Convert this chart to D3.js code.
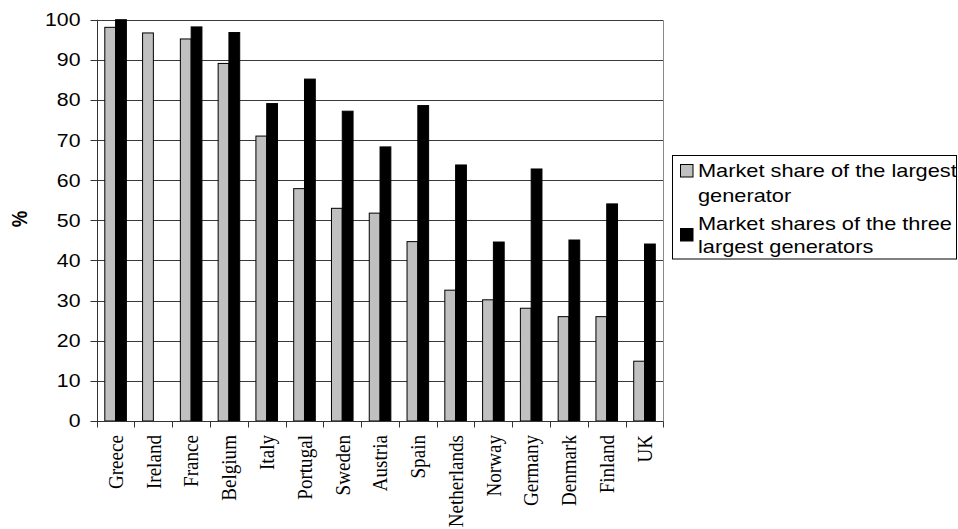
<!DOCTYPE html>
<html>
<head>
<meta charset="utf-8">
<script src="https://cdn.jsdelivr.net/npm/d3@7"></script>
<style>
  html, body { margin: 0; padding: 0; background: #fff; }
  svg { display: block; }
</style>
</head>
<body>
<svg id="chart" width="958" height="529"></svg>
<script>
const categories = ["Greece","Ireland","France","Belgium","Italy","Portugal","Sweden","Austria","Spain","Netherlands","Norway","Germany","Denmark","Finland","UK"];
const largest = [98.1, 96.7, 95.2, 89.1, 71.0, 57.9, 53.0, 51.8, 44.7, 32.6, 30.2, 28.1, 26.0, 26.0, 14.9];
const threeLargest = [100, null, 98.2, 96.8, 79.1, 85.2, 77.2, 68.3, 78.6, 63.8, 44.6, 62.8, 45.1, 54.1, 44.1];
const seriesNames = ["Market share of the largest|generator", "Market shares of the three|largest generators"];
const seriesColors = ["#c0c0c0", "#000000"];
const yTicks = [0,10,20,30,40,50,60,70,80,90,100];
const yLabel = "%";

const svg = d3.select("#chart");
const plot = { left: 96.7, right: 663.4, top: 19.7, bottom: 421 };
const SX = 1.15;

const x = d3.scaleBand().domain(categories).range([plot.left, plot.right]).paddingInner(0).paddingOuter(0);
const bw = x.bandwidth();
const x1 = d3.scaleBand().domain([0,1]).range([bw*0.2143, bw*0.7857]).padding(0);
const y = d3.scaleLinear().domain([0,100]).range([plot.bottom, plot.top]);

// gridlines
svg.append("g").selectAll("line").data(yTicks.filter(d => d > 0)).join("line")
  .attr("x1", plot.left).attr("x2", plot.right)
  .attr("y1", d => Math.round(y(d)) + 0.5).attr("y2", d => Math.round(y(d)) + 0.5)
  .attr("stroke", "#3a3a3a").attr("stroke-width", 1);

// right border
svg.append("line").attr("x1", Math.round(plot.right)+0.5).attr("x2", Math.round(plot.right)+0.5)
  .attr("y1", Math.round(y(100))+0.5).attr("y2", Math.round(y(0))+0.5)
  .attr("stroke", "#8a8a8a");

// bars
const rows = categories.map((c, i) => ({ c, vals: [largest[i], threeLargest[i]] }));
const groups = svg.append("g").selectAll("g").data(rows).join("g")
  .attr("transform", d => `translate(${x(d.c)},0)`);
groups.selectAll("rect").data(d => d.vals.map((v, k) => ({ v, k })).filter(e => e.v != null)).join("rect")
  .attr("x", e => x1(e.k))
  .attr("width", x1.bandwidth())
  .attr("y", e => y(e.v))
  .attr("height", e => y(0) - y(e.v))
  .attr("fill", e => seriesColors[e.k])
  .attr("stroke", "#000").attr("stroke-width", 1);

// y axis
const yAxis = svg.append("g").attr("transform", `translate(${Math.round(plot.left)+0.5},0)`);
yAxis.append("line").attr("y1", y(100)).attr("y2", y(0)).attr("stroke", "#333");
yAxis.selectAll("line.t").data(yTicks).join("line").attr("class","t")
  .attr("x1", -7).attr("x2", 0)
  .attr("y1", d => Math.round(y(d))+0.5).attr("y2", d => Math.round(y(d))+0.5)
  .attr("stroke", "#333");
yAxis.selectAll("text").data(yTicks).join("text")
  .attr("transform", d => `translate(${-17},${y(d)}) scale(${SX},1)`)
  .attr("text-anchor", "end").attr("dy", "0.35em")
  .attr("font-family", "'Liberation Sans', Arial, sans-serif").attr("font-size", 18.5)
  .attr("fill", "#000").text(d => d);

// x axis
const xAxis = svg.append("g").attr("transform", `translate(0,${Math.round(y(0))+0.5})`);
xAxis.append("line").attr("x1", plot.left).attr("x2", plot.right).attr("stroke", "#333");
const bounds = categories.map(c => x(c)).concat([plot.right]);
xAxis.selectAll("line.t").data(bounds).join("line").attr("class","t")
  .attr("x1", d => Math.round(d)+0.5).attr("x2", d => Math.round(d)+0.5)
  .attr("y1", 0).attr("y2", 6).attr("stroke", "#333");
svg.append("g").selectAll("text").data(categories).join("text")
  .attr("transform", c => `translate(${x(c) + bw/2},${435}) scale(${SX},1) rotate(-90)`)
  .attr("text-anchor", "end").attr("dy", "0.33em")
  .attr("font-family", "'Liberation Serif', 'Times New Roman', serif").attr("font-size", 19.1)
  .attr("fill", "#000").text(c => c);

// y label
svg.append("text")
  .attr("transform", `translate(20,219) scale(${SX},1) rotate(-90)`)
  .attr("text-anchor", "middle").attr("dy", "0.35em")
  .attr("font-family", "'Liberation Sans', Arial, sans-serif").attr("font-size", 18.5)
  .attr("font-weight", "bold").text(yLabel);

// legend
const lg = svg.append("g");
lg.append("rect").attr("x", 672.5).attr("y", 155.5).attr("width", 284).attr("height", 103.5)
  .attr("fill", "#fff").attr("stroke", "#000").attr("stroke-width", 1);
const lineY = [[176.5, 201.5], [229.5, 253]];
const swY = [164.5, 228.5];
seriesNames.forEach((name, k) => {
  lg.append("rect").attr("x", 680.5).attr("y", swY[k]).attr("width", 12.5).attr("height", 12.5)
    .attr("fill", seriesColors[k]).attr("stroke", "#000");
  name.split("|").forEach((ln, j) => {
    lg.append("text")
      .attr("transform", `translate(698,${lineY[k][j]}) scale(1.17,1)`)
      .attr("font-family", "'Liberation Sans', Arial, sans-serif").attr("font-size", 18.6)
      .attr("fill", "#000").text(ln);
  });
});
</script>
</body>
</html>
